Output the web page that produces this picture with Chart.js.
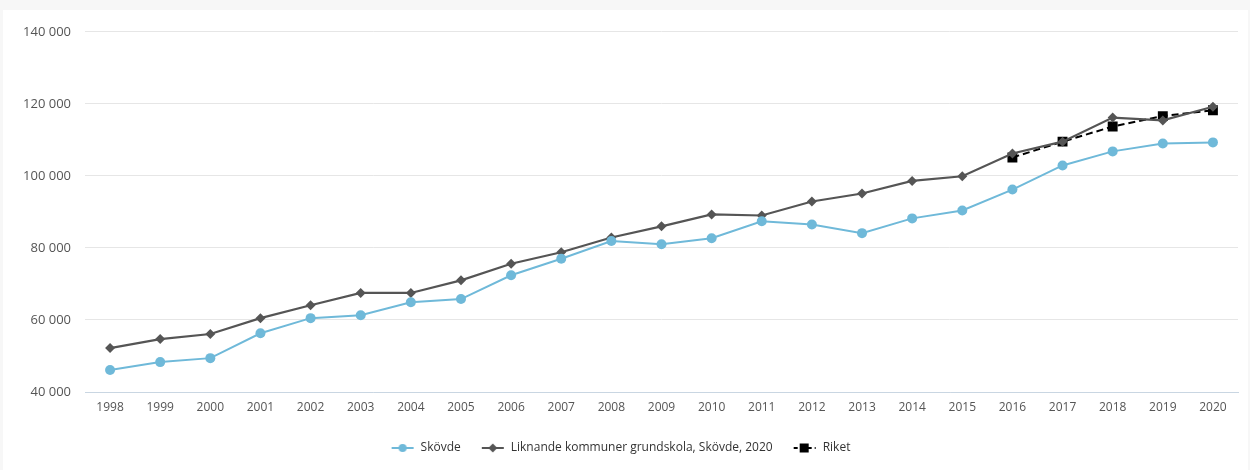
<!DOCTYPE html>
<html>
<head>
<meta charset="utf-8">
<script src="https://cdn.jsdelivr.net/npm/chart.js@4.4.1/dist/chart.umd.min.js"></script>
<style>
  html, body { margin: 0; padding: 0; background: #f7f7f7; }
  #wrap { position: absolute; left: 3px; top: 10px; width: 1245px; height: 460px; background: #fff; }
</style>
</head>
<body>
<div id="wrap"><canvas id="myChart"></canvas></div>
<script>
const years = ['1998','1999','2000','2001','2002','2003','2004','2005','2006','2007','2008',
  '2009','2010','2011','2012','2013','2014','2015','2016','2017','2018','2019','2020'];
const skovde = [46100, 48300, 49400, 56300, 60500, 61300, 64900, 65800, 72400, 77000, 81900,
  81000, 82700, 87400, 86500, 84100, 88200, 90400, 96200, 102900, 106800, 109000, 109300];
const liknande = [52200, 54700, 56100, 60500, 64100, 67500, 67500, 71000, 75600, 78800, 82900,
  86000, 89300, 89000, 92900, 95100, 98600, 99900, 106200, 109500, 116200, 115400, 119200];
const riket = [null, null, null, null, null, null, null, null, null, null, null,
  null, null, null, null, null, null, null, 105100, 109500, 113700, 116600, 118200];
const yTicks = [40000, 60000, 80000, 100000, 120000, 140000];

const blue = '#6fb9d9';
const gray = '#555555';

// little legend icons: line with marker in the middle
function icon(color, shape, dashed){
  const c = document.createElement('canvas');
  c.width = 24; c.height = 12;
  const g = c.getContext('2d');
  g.strokeStyle = color; g.fillStyle = color; g.lineWidth = 2;
  if (dashed) g.setLineDash([4, 3]);
  g.beginPath(); g.moveTo(1, 6); g.lineTo(23, 6); g.stroke();
  g.setLineDash([]);
  g.beginPath();
  if (shape === 'circle') g.arc(12, 6, 4, 0, Math.PI*2);
  else if (shape === 'diamond') { g.moveTo(12, 1.5); g.lineTo(16.5, 6); g.lineTo(12, 10.5); g.lineTo(7.5, 6); g.closePath(); }
  else g.rect(7, 1.5, 9, 9);
  g.fill();
  return c;
}
const icons = [icon(blue, 'circle'), icon(gray, 'diamond'), icon('#000', 'square', true)];

const ctx = document.getElementById('myChart').getContext('2d');
const myChart = new Chart(ctx, {
  type: 'line',
  data: {
    labels: years,
    datasets: [{
      label: 'Skövde',
      data: skovde,
      borderColor: blue, backgroundColor: blue,
      borderWidth: 2, pointRadius: 5, pointStyle: 'circle',
      pointBorderWidth: 0, tension: 0
    }, {
      label: 'Liknande kommuner grundskola, Skövde, 2020',
      data: liknande,
      borderColor: gray, backgroundColor: gray,
      borderWidth: 2.2, pointRadius: 5, pointStyle: 'rectRot',
      pointBorderWidth: 0, tension: 0
    }, {
      label: 'Riket',
      data: riket,
      borderColor: '#000', backgroundColor: '#000',
      borderWidth: 2, borderDash: [7, 4], pointRadius: 7, pointStyle: 'rect',
      pointBorderWidth: 0, tension: 0, spanGaps: false
    }]
  },
  options: {
    responsive: true,
    maintainAspectRatio: false,
    animation: false,
    layout: { padding: { top: 19, right: 10, left: 0, bottom: 6 } },
    plugins: {
      tooltip: { enabled: false },
      legend: {
        position: 'bottom',
        labels: {
          usePointStyle: true,
          pointStyleWidth: 24,
          padding: 20,
          color: '#333',
          font: { family: 'Open Sans', size: 12 },
          generateLabels: (chart) => chart.data.datasets.map((ds, i) => ({
            text: ds.label,
            pointStyle: icons[i],
            fillStyle: ds.backgroundColor,
            strokeStyle: ds.borderColor,
            lineWidth: 0,
            fontColor: '#333',
            hidden: false,
            datasetIndex: i
          }))
        }
      }
    },
    scales: {
      x: {
        offset: true,
        grid: { display: false, drawTicks: false },
        border: { display: true, color: '#c9d6e2' },
        ticks: { color: '#555', padding: 8, font: { family: 'Open Sans', size: 12 }, maxRotation: 0 },
        afterFit: (s) => { s.height = 30; }
      },
      y: {
        min: 40000, max: 140000,
        afterBuildTicks: (s) => { s.ticks = yTicks.map(v => ({ value: v })); },
        grid: { color: '#e6e6e6', drawTicks: false },
        border: { display: false },
        ticks: {
          color: '#555', padding: 14,
          font: { family: 'Open Sans', size: 13 },
          callback: (v) => String(v).replace(/\B(?=(\d{3})+(?!\d))/g, ' ')
        },
        afterFit: (s) => { s.width = 82; }
      }
    }
  }
});
</script>
</body>
</html>
